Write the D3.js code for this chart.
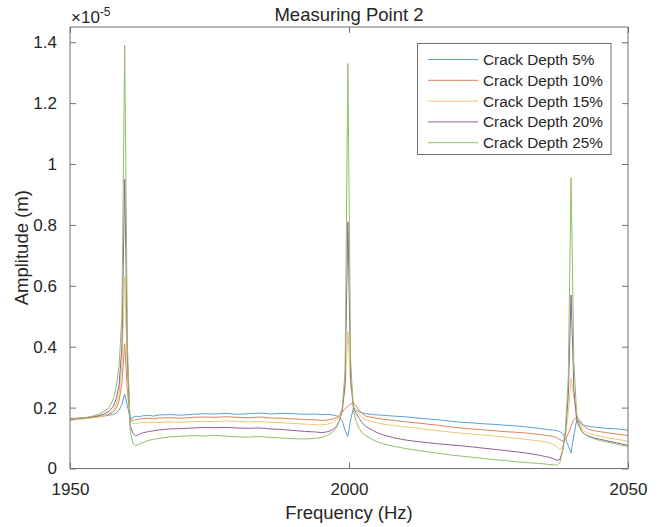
<!DOCTYPE html>
<html>
<head>
<meta charset="utf-8">
<script src="https://cdn.jsdelivr.net/npm/d3@7"></script>
<style>
  html, body { margin: 0; padding: 0; background: #fff; }
  svg { display: block; }
  text { font-family: "Liberation Sans", Arial, Helvetica, sans-serif; }
</style>
</head>
<body>
<script>
// ---------- DATA (amplitude in units of 1e-5 m) ----------
const title = "Measuring Point 2";
const xLabel = "Frequency (Hz)";
const yLabel = "Amplitude (m)";
const seriesNames = ["Crack Depth 5%", "Crack Depth 10%", "Crack Depth 15%", "Crack Depth 20%", "Crack Depth 25%"];
const xTicks = [1950, 2000, 2050];
const yTicks = [0, 0.2, 0.4, 0.6, 0.8, 1, 1.2, 1.4];
const xDomain = [1950, 2050];
const yDomain = [0, 1.45];

const freq = [1950, 1951, 1952, 1953, 1954, 1955, 1956, 1957, 1957.8, 1958.3,
  1958.8, 1959.3, 1959.8, 1960.3, 1960.8, 1961.3, 1961.8, 1962.3, 1963, 1964,
  1965, 1966, 1968, 1970, 1972, 1974, 1976, 1978, 1980, 1982,
  1984, 1986, 1988, 1990, 1992, 1994, 1995, 1996, 1997, 1997.8,
  1998.3, 1998.8, 1999.3, 1999.8, 2000.3, 2000.8, 2001.3, 2001.8, 2002.3, 2003,
  2004, 2005, 2006, 2008, 2010, 2012, 2014, 2016, 2018, 2020,
  2022, 2024, 2026, 2028, 2030, 2032, 2034, 2035, 2036, 2036.8,
  2037.3, 2037.8, 2038.3, 2038.8, 2039.3, 2039.8, 2040.3, 2040.8, 2041.3, 2041.8,
  2042.3, 2043, 2044, 2045, 2046, 2048, 2050];

const depth5 = [0.160, 0.163, 0.165, 0.166, 0.168, 0.170, 0.172, 0.175, 0.178, 0.183,
  0.192, 0.210, 0.245, 0.205, 0.162, 0.168, 0.172, 0.170, 0.173, 0.175,
  0.172, 0.176, 0.177, 0.175, 0.178, 0.180, 0.179, 0.181, 0.178, 0.180,
  0.182, 0.179, 0.181, 0.180, 0.178, 0.179, 0.177, 0.178, 0.176, 0.173,
  0.168, 0.155, 0.125, 0.105, 0.160, 0.200, 0.192, 0.186, 0.183, 0.180,
  0.178, 0.176, 0.175, 0.172, 0.170, 0.166, 0.163, 0.160, 0.156, 0.152,
  0.150, 0.147, 0.145, 0.142, 0.140, 0.136, 0.132, 0.129, 0.127, 0.126,
  0.124, 0.121, 0.114, 0.098, 0.075, 0.052, 0.110, 0.158, 0.152, 0.145,
  0.141, 0.138, 0.136, 0.134, 0.132, 0.130, 0.126];

const depth10 = [0.165, 0.165, 0.166, 0.167, 0.168, 0.170, 0.173, 0.178, 0.186, 0.198,
  0.222, 0.280, 0.410, 0.250, 0.160, 0.158, 0.160, 0.162, 0.164, 0.165,
  0.163, 0.166, 0.167, 0.165, 0.168, 0.169, 0.168, 0.170, 0.168, 0.167,
  0.169, 0.166, 0.165, 0.163, 0.161, 0.160, 0.158, 0.159, 0.162, 0.168,
  0.176, 0.186, 0.196, 0.205, 0.212, 0.215, 0.205, 0.192, 0.182, 0.172,
  0.168, 0.165, 0.162, 0.158, 0.154, 0.150, 0.146, 0.142, 0.137, 0.133,
  0.130, 0.127, 0.124, 0.121, 0.119, 0.116, 0.112, 0.110, 0.107, 0.104,
  0.100, 0.095, 0.090, 0.095, 0.115, 0.140, 0.160, 0.168, 0.160, 0.145,
  0.135, 0.128, 0.124, 0.121, 0.118, 0.113, 0.108];

const depth15 = [0.158, 0.160, 0.162, 0.164, 0.166, 0.169, 0.173, 0.180, 0.192, 0.210,
  0.245, 0.340, 0.630, 0.300, 0.160, 0.148, 0.148, 0.150, 0.151, 0.150,
  0.152, 0.151, 0.153, 0.152, 0.154, 0.155, 0.154, 0.156, 0.155, 0.153,
  0.154, 0.152, 0.150, 0.148, 0.146, 0.144, 0.143, 0.145, 0.150, 0.160,
  0.175, 0.200, 0.260, 0.450, 0.270, 0.205, 0.190, 0.178, 0.168, 0.160,
  0.154, 0.150, 0.146, 0.141, 0.137, 0.133, 0.128, 0.124, 0.120, 0.116,
  0.113, 0.110, 0.107, 0.103, 0.099, 0.095, 0.091, 0.088, 0.084, 0.078,
  0.070, 0.062, 0.070, 0.110, 0.180, 0.295, 0.230, 0.175, 0.150, 0.132,
  0.122, 0.115, 0.110, 0.106, 0.102, 0.096, 0.090];

const depth20 = [0.162, 0.163, 0.165, 0.167, 0.170, 0.173, 0.178, 0.188, 0.205, 0.230,
  0.275, 0.400, 0.950, 0.350, 0.140, 0.115, 0.107, 0.112, 0.117, 0.121,
  0.124, 0.127, 0.130, 0.131, 0.133, 0.135, 0.134, 0.135, 0.133, 0.132,
  0.133, 0.130, 0.128, 0.125, 0.122, 0.120, 0.118, 0.120, 0.126, 0.140,
  0.158, 0.190, 0.280, 0.810, 0.300, 0.200, 0.180, 0.165, 0.152, 0.138,
  0.128, 0.118, 0.111, 0.101, 0.094, 0.089, 0.085, 0.081, 0.078, 0.075,
  0.071, 0.067, 0.063, 0.059, 0.055, 0.050, 0.044, 0.040, 0.036, 0.031,
  0.027, 0.030, 0.060, 0.120, 0.240, 0.570, 0.260, 0.160, 0.135, 0.120,
  0.112, 0.106, 0.100, 0.096, 0.092, 0.084, 0.076];

const depth25 = [0.163, 0.164, 0.166, 0.168, 0.172, 0.177, 0.186, 0.200, 0.230, 0.270,
  0.340, 0.500, 1.390, 0.400, 0.120, 0.082, 0.075, 0.079, 0.085, 0.092,
  0.096, 0.099, 0.104, 0.106, 0.108, 0.107, 0.109, 0.106, 0.104, 0.103,
  0.105, 0.102, 0.100, 0.098, 0.097, 0.099, 0.102, 0.108, 0.118, 0.135,
  0.158, 0.200, 0.320, 1.330, 0.350, 0.190, 0.155, 0.132, 0.118, 0.108,
  0.097, 0.088, 0.082, 0.073, 0.066, 0.060, 0.055, 0.050, 0.045, 0.041,
  0.037, 0.033, 0.029, 0.026, 0.022, 0.019, 0.017, 0.015, 0.013, 0.012,
  0.011, 0.020, 0.060, 0.130, 0.300, 0.955, 0.350, 0.180, 0.140, 0.122,
  0.112, 0.104, 0.097, 0.092, 0.088, 0.080, 0.072];

const seriesValues = [depth5, depth10, depth15, depth20, depth25];
const colors = ["#5aa0d2", "#d9855a", "#eec672", "#8f609c", "#95bd68"];

// ---------- LAYOUT ----------
const W = 658, H = 527;
const m = { left: 70, right: 30, top: 27, bottom: 58.5 };
const x0 = m.left, x1 = W - m.right, y0 = m.top, y1 = H - m.bottom;

const svg = d3.select("body").append("svg").attr("width", W).attr("height", H);

const x = d3.scaleLinear().domain(xDomain).range([x0, x1]);
const y = d3.scaleLinear().domain(yDomain).range([y1, y0]);

const axisColor = "#707070";
const textColor = "#262626";

svg.append("defs").append("clipPath").attr("id", "clip")
  .append("rect").attr("x", x0).attr("y", y0).attr("width", x1 - x0).attr("height", y1 - y0);

// lines
const line = d3.line().x((d, i) => x(freq[i])).y(d => y(d));
const plot = svg.append("g").attr("clip-path", "url(#clip)");
seriesValues.forEach((vals, k) => {
  plot.append("path").datum(vals)
    .attr("fill", "none").attr("stroke", colors[k]).attr("stroke-width", 1)
    .attr("stroke-linejoin", "round")
    .attr("d", line);
});

// axes
const tickLen = 6;
const fmtY = d => d3.format("~g")(d);
function styleAxis(g) {
  g.select(".domain").remove();
  g.selectAll(".tick line").attr("stroke", axisColor);
  g.selectAll(".tick text").attr("fill", textColor).attr("font-size", 17);
}
svg.append("g").attr("transform", `translate(0,${y1})`)
  .call(d3.axisBottom(x).tickValues(xTicks).tickSize(-tickLen).tickPadding(14).tickFormat(d3.format("d")))
  .call(styleAxis);
svg.append("g").attr("transform", `translate(0,${y0})`)
  .call(d3.axisTop(x).tickValues(xTicks).tickSize(-tickLen).tickFormat(""))
  .call(styleAxis);
svg.append("g").attr("transform", `translate(${x0},0)`)
  .call(d3.axisLeft(y).tickValues(yTicks).tickSize(-tickLen).tickPadding(13).tickFormat(fmtY))
  .call(styleAxis);
svg.append("g").attr("transform", `translate(${x1},0)`)
  .call(d3.axisRight(y).tickValues(yTicks).tickSize(-tickLen).tickFormat(""))
  .call(styleAxis);

// box
svg.append("rect").attr("x", x0).attr("y", y0).attr("width", x1 - x0).attr("height", y1 - y0)
  .attr("fill", "none").attr("stroke", axisColor).attr("stroke-width", 1);

// exponent label
const ex = svg.append("text").attr("x", x0 + 1).attr("y", 23).attr("fill", textColor).attr("font-size", 17);
ex.append("tspan").text("×10");
ex.append("tspan").attr("dy", -7).attr("font-size", 12).text("-5");

// title & labels
svg.append("text").attr("x", (x0 + x1) / 2).attr("y", 21).attr("text-anchor", "middle")
  .attr("fill", textColor).attr("font-size", 18.5).text(title);
svg.append("text").attr("x", (x0 + x1) / 2).attr("y", 519).attr("text-anchor", "middle")
  .attr("fill", textColor).attr("font-size", 18.5).text(xLabel);
svg.append("text").attr("transform", `translate(28,${(y0 + y1) / 2}) rotate(-90)`)
  .attr("text-anchor", "middle").attr("fill", textColor).attr("font-size", 18.5).text(yLabel);

// legend
const lg = svg.append("g");
const lx = 417.5, ly = 43.5, lw = 193.5, lh = 111;
lg.append("rect").attr("x", lx).attr("y", ly).attr("width", lw).attr("height", lh)
  .attr("fill", "#fff").attr("stroke", axisColor).attr("stroke-width", 1);
seriesNames.forEach((name, k) => {
  const yy = 59.5 + k * 20.8;
  lg.append("line").attr("x1", 428).attr("x2", 478).attr("y1", yy).attr("y2", yy)
    .attr("stroke", colors[k]).attr("stroke-width", 1);
  lg.append("text").attr("x", 483).attr("y", yy + 5.5).attr("fill", textColor)
    .attr("font-size", 15.3).text(name);
});
</script>
</body>
</html>
